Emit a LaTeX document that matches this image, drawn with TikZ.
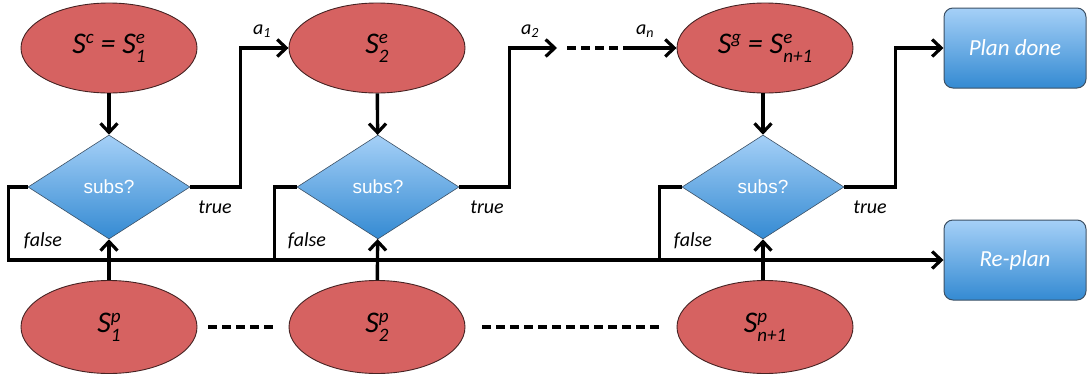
\documentclass[tikz,border=0pt]{standalone}
\usepackage{fontspec}
\setmainfont{Carlito}
\newfontfamily\subsfont{Liberation Sans}
\usetikzlibrary{shapes.geometric,arrows.meta,shadings,calc}

\definecolor{statered}{RGB}{214,98,97}
\definecolor{stateedge}{RGB}{70,35,35}
\definecolor{bluetop}{RGB}{165,208,247}
\definecolor{bluebot}{RGB}{52,138,210}
\definecolor{blueedge}{RGB}{60,80,100}

% stacked super/subscript in text mode
\newcommand\scripted[1]{{\fontsize{19}{19}\selectfont #1}}
\newcommand\supsub[2]{\ooalign{\raisebox{0.7ex}{\scripted{#1}}\cr\raisebox{-0.6ex}{\scripted{#2}}}}
\newcommand\supr[1]{\raisebox{0.7ex}{\scripted{#1}}}

\tikzset{
  state/.style={ellipse, draw=stateedge, line width=0.9pt, fill=statered,
    minimum width=176pt, minimum height=90pt, inner sep=0pt,
    font=\fontsize{30}{30}\selectfont\itshape},
  test/.style={diamond, draw=blueedge, line width=0.6pt,
    top color=bluetop, bottom color=bluebot,
    minimum width=162pt, minimum height=104pt, inner sep=0pt,
    text=white, font=\subsfont\fontsize{19}{19}\selectfont},
  outcome/.style={rectangle, rounded corners=9pt, draw=blueedge, line width=1pt,
    top color=bluetop, bottom color=bluebot,
    minimum width=142pt, minimum height=80pt, inner sep=0pt,
    text=white, font=\fontsize{23}{23}\selectfont\itshape},
  flow/.style={line width=3.4pt, -{Straight Barb[length=9pt,width=17pt,line width=3.2pt]}},
  wire/.style={line width=3.4pt},
  gap/.style={line width=3.4pt, dash pattern=on 9pt off 5pt},
  lbl/.style={font=\fontsize{20}{20}\selectfont\itshape, inner sep=0pt},
}

\begin{document}
\begin{tikzpicture}[x=1pt,y=-1pt]
\useasboundingbox (0,0) rectangle (1087,378);

% expected states
\node[state] (e1) at (109,48) {S\supr{c} = S\supsub{e}{1}};
\node[state] (e2) at (377,48) {S\supsub{e}{2}};
\node[state] (e3) at (765,48) {S\supr{g} = S\supsub{e}{n+1}};

% subsumption tests
\node[test] (d1) at (109,187) {subs?};
\node[test] (d2) at (378,187) {subs?};
\node[test] (d3) at (763,187) {subs?};

% perceived states
\node[state, minimum height=93pt] (p1) at (109,327) {S\supsub{p}{1}};
\node[state, minimum height=93pt] (p2) at (377,327) {S\supsub{p}{2}};
\node[state, minimum height=93pt] (p3) at (765,327) {S\supsub{p}{n+1}};

% outcomes
\node[outcome] (done) at (1015,48) {Plan done};
\node[outcome] (replan) at (1015,260) {Re-plan};

% expected -> test
\draw[flow] (e1) -- (d1);
\draw[flow] (e2) -- (d2);
\draw[flow] (d3.north |- e3.south) -- (d3.north);

% perceived -> test
\draw[flow] (p1) -- (d1);
\draw[flow] (p2) -- (d2);
\draw[flow] (d3.south |- p3.north) -- (d3.south);

% true branches
\draw[flow] (d1.east) -- ++(50,0) |- (e2.west);
\coordinate (a2end) at (557,48);
\coordinate (dots1) at (567,48);
\coordinate (dots2) at (632,48);
\draw[flow] (d2.east) -- ++(50,0) |- (a2end);
\draw[gap] (dots1) -- (dots2);
\draw[flow] (dots2) -- (e3.west);
\draw[flow] (d3.east) -- ++(51,0) |- (done.west);

% false branches join the re-plan bus
\draw[flow] (d1.west) -- ++(-19,0) |- (replan.west);
\draw[wire] (d2.west) -- ++(-22,0) coordinate (f2) -- (f2 |- replan.west);
\draw[wire] (d3.west) -- ++(-22,0) coordinate (f3) -- (f3 |- replan.west);

% gaps between perceived states
\draw[gap] ($(p1.east)+(11,0)$) -- ($(p2.west)+(-11,0)$);
\draw[gap] ($(p2.east)+(17,0)$) -- ($(p3.west)+(-17,0)$);

% labels
\node[lbl] at (262,31) {a\textsubscript{1}};
\node[lbl] at (530,31) {a\textsubscript{2}};
\node[lbl] at (645,31) {a\textsubscript{n}};
\node[lbl] at (215,207) {true};
\node[lbl] at (487,207) {true};
\node[lbl] at (870,207) {true};
\node[lbl] at (43,241) {false};
\node[lbl] at (307,241) {false};
\node[lbl] at (693,241) {false};
\end{tikzpicture}
\end{document}
